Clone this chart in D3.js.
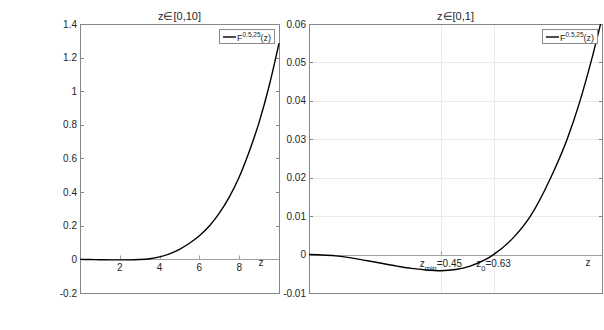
<!DOCTYPE html>
<html>
  <head>
    <meta charset="utf-8">
    <title>F(z) on two ranges</title>
    <script src="https://d3js.org/d3.v7.min.js"></script>
    <style>
      body { margin: 0; background: #fff; }
      text { font-family: "Liberation Sans", Arial, Helvetica, sans-serif; fill: #262626; }
    </style>
  </head>
  <body>
    <div id="chart"></div>
    <script>
      // values
      var leftZ = [0, 0.5, 1, 1.5, 2, 2.5, 3, 3.5, 4, 4.5, 5, 5.5, 6, 6.5, 7, 7.5, 8, 8.5, 9, 9.5, 10];
      var leftF = [0, -0.001, -0.002, -0.003, -0.003, -0.003, -0.001, 0.004, 0.015, 0.033, 0.06, 0.096, 0.14, 0.198, 0.275, 0.37, 0.49, 0.64, 0.815, 1.03, 1.286];
      var rightZ = [0, 0.1, 0.2, 0.3, 0.35, 0.4, 0.45, 0.5, 0.55, 0.6, 0.63, 0.7, 0.754, 0.825, 0.881, 0.925, 0.962, 1];
      var rightF = [0, -0.0004, -0.0016, -0.003, -0.0036, -0.004, -0.0042, -0.0039, -0.003, -0.0014, 0, 0.0046, 0.0098, 0.02, 0.03, 0.04, 0.05, 0.0615];

      var leftXTicks = [2, 4, 6, 8];
      var leftYTicks = [-0.2, 0, 0.2, 0.4, 0.6, 0.8, 1, 1.2, 1.4];
      var rightXTicks = [0.45, 0.63];
      var rightXLabels = [["z", "min", "=0.45"], ["z", "0", "=0.63"]];
      var rightYTicks = [-0.01, 0, 0.01, 0.02, 0.03, 0.04, 0.05, 0.06];

      var svg = d3.select("#chart").append("svg")
        .attr("width", 604)
        .attr("height", 330);

      function fmt(d) { return String(+d.toFixed(3)); }

      // draws one MATLAB-style panel
      function panel(opt) {
        var x = d3.scaleLinear().domain(opt.xDomain).range([opt.left, opt.right]);
        var y = d3.scaleLinear().domain(opt.yDomain).range([opt.bottom, opt.top]);
        var g = svg.append("g");

        g.append("clipPath").attr("id", opt.id)
          .append("rect")
          .attr("x", opt.left).attr("y", opt.top)
          .attr("width", opt.right - opt.left + 1).attr("height", opt.bottom - opt.top + 1);

        // grid
        if (opt.grid) {
          g.selectAll(".gy").data(opt.yTicks.filter(function(d) { return d != 0; }))
            .enter().append("line")
            .attr("x1", opt.left).attr("x2", opt.right)
            .attr("y1", function(d) { return Math.round(y(d)) + 0.5; })
            .attr("y2", function(d) { return Math.round(y(d)) + 0.5; })
            .attr("stroke", "#ebebeb");
          g.selectAll(".gx").data(opt.xTicks)
            .enter().append("line")
            .attr("x1", function(d) { return Math.round(x(d)) + 0.5; })
            .attr("x2", function(d) { return Math.round(x(d)) + 0.5; })
            .attr("y1", opt.top).attr("y2", opt.bottom)
            .attr("stroke", "#ebebeb");
        }

        // box
        g.append("rect")
          .attr("x", opt.left + 0.5).attr("y", opt.top + 0.5)
          .attr("width", opt.right - opt.left).attr("height", opt.bottom - opt.top)
          .attr("fill", "none").attr("stroke", "#868686");

        // y ticks, inside on both sides
        var yt = g.selectAll(".yt").data(opt.yTicks).enter();
        yt.append("line")
          .attr("x1", opt.left).attr("x2", opt.left + 4)
          .attr("y1", function(d) { return Math.round(y(d)) + 0.5; })
          .attr("y2", function(d) { return Math.round(y(d)) + 0.5; })
          .attr("stroke", "#868686");
        yt.append("text")
          .attr("x", opt.left - 3)
          .attr("y", function(d) { return y(d); })
          .attr("dy", "0.35em")
          .attr("text-anchor", "end")
          .attr("font-size", 10)
          .text(fmt);
        yt.append("line")
          .attr("x1", opt.right + 1).attr("x2", opt.right - 3)
          .attr("y1", function(d) { return Math.round(y(d)) + 0.5; })
          .attr("y2", function(d) { return Math.round(y(d)) + 0.5; })
          .attr("stroke", "#868686");

        // x axis through the origin
        var y0 = Math.round(y(0)) + 0.5;
        g.append("line")
          .attr("x1", opt.left).attr("x2", opt.right)
          .attr("y1", y0).attr("y2", y0)
          .attr("stroke", "#a0a0a0");
        var xt = g.selectAll(".xt").data(opt.xTicks).enter();
        xt.append("line")
          .attr("x1", function(d) { return Math.round(x(d)) + 0.5; })
          .attr("x2", function(d) { return Math.round(x(d)) + 0.5; })
          .attr("y1", y0).attr("y2", y0 - 4)
          .attr("stroke", "#a0a0a0");
        var labels = xt.append("text")
          .attr("x", function(d) { return x(d); })
          .attr("y", y0 + 11.5)
          .attr("text-anchor", "middle")
          .attr("font-size", 10);
        labels.each(function(d, i) {
          var t = d3.select(this);
          if (!opt.xLabels) { t.text(fmt(d)); return; }
          var parts = opt.xLabels[i];
          t.append("tspan").text(parts[0]);
          t.append("tspan").attr("font-size", 7.5).attr("dy", 4).text(parts[1]);
          t.append("tspan").attr("dy", -4).text(parts[2]);
        });
        g.append("text")
          .attr("x", opt.right - opt.zOff)
          .attr("y", 266)
          .attr("text-anchor", "middle")
          .attr("font-size", 10)
          .text("z");

        // curve
        var line = d3.line()
          .x(function(d) { return x(d[0]); })
          .y(function(d) { return y(d[1]); })
          .curve(d3.curveMonotoneX);
        g.append("path")
          .datum(d3.zip(opt.zs, opt.fs))
          .attr("d", line)
          .attr("clip-path", "url(#" + opt.id + ")")
          .attr("fill", "none")
          .attr("stroke", "#000")
          .attr("stroke-width", 1.4);

        // title
        g.append("text")
          .attr("x", (opt.left + opt.right) / 2)
          .attr("y", opt.top - 4)
          .attr("text-anchor", "middle")
          .attr("font-size", 11)
          .text(opt.title);

        // legend
        var lx = opt.right - 60, ly = opt.top + 5;
        g.append("rect")
          .attr("x", lx + 0.5).attr("y", ly + 0.5)
          .attr("width", 55).attr("height", 14)
          .attr("fill", "#fff").attr("stroke", "#8a8a8a");
        g.append("line")
          .attr("x1", lx + 4).attr("x2", lx + 17)
          .attr("y1", ly + 8).attr("y2", ly + 8)
          .attr("stroke", "#000").attr("stroke-width", 1.4);
        var lt = g.append("text")
          .attr("x", lx + 18)
          .attr("y", ly + 12)
          .attr("font-size", 9);
        lt.append("tspan").text("F");
        lt.append("tspan").attr("font-size", 6.5).attr("dy", -4).text("0.5,25");
        lt.append("tspan").attr("dy", 4).text("(z)");
      }

      panel({
        id: "clipL",
        left: 80, right: 279, top: 24, bottom: 293,
        xDomain: [0, 10], yDomain: [-0.2, 1.4],
        xTicks: leftXTicks, yTicks: leftYTicks,
        zs: leftZ, fs: leftF, title: "z\u2208[0,10]",
        grid: false, zOff: 18
      });
      panel({
        id: "clipR",
        left: 309, right: 602, top: 24, bottom: 293,
        xDomain: [0, 1], yDomain: [-0.01, 0.06],
        xTicks: rightXTicks, xLabels: rightXLabels, yTicks: rightYTicks,
        zs: rightZ, fs: rightF, title: "z\u2208[0,1]",
        grid: true, zOff: 14
      });
    </script>
  </body>
</html>
